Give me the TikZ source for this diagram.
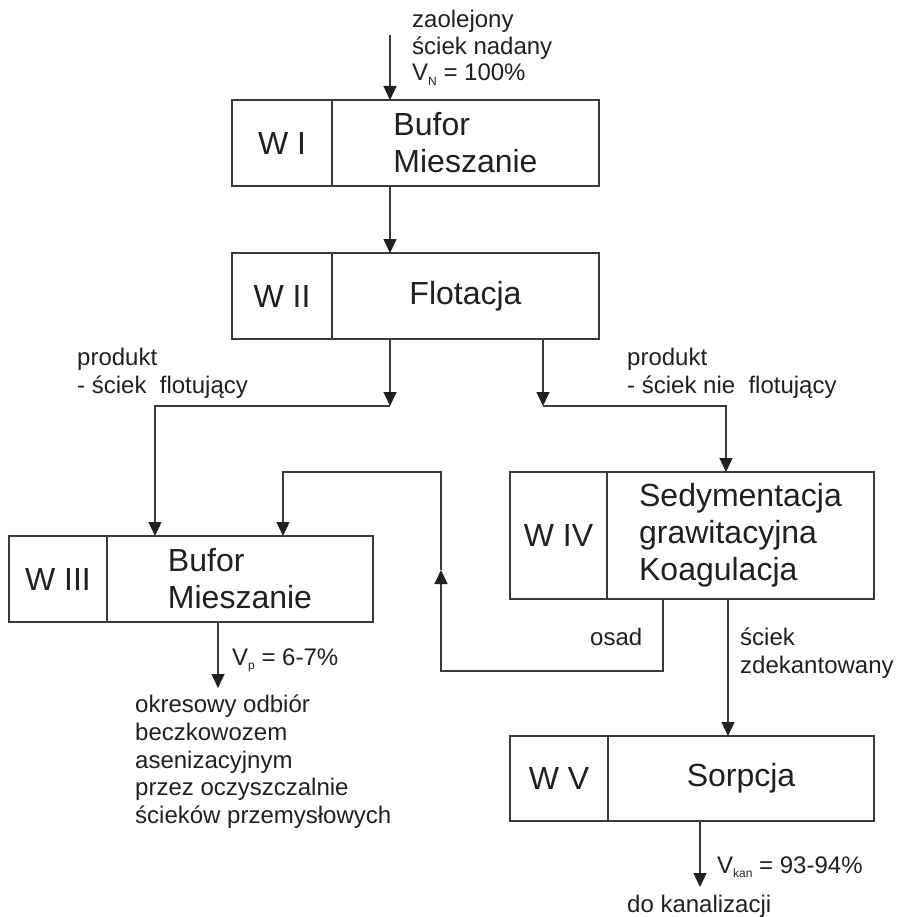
\documentclass[tikz,border=0pt]{standalone}
\usepackage{fontspec}
\setmainfont{Liberation Sans}
\usetikzlibrary{arrows.meta}
\definecolor{ink}{HTML}{231F20}
\definecolor{edge}{HTML}{3A3A3A}
\newcommand{\sbs}[1]{\raisebox{-4.5pt}{\fontsize{12}{12}\selectfont #1}}
\begin{document}
\begin{tikzpicture}[x=1pt,y=-1pt,
  blk/.style={draw=edge,line width=1.3pt,rectangle,inner sep=0pt,outer sep=0pt,anchor=north west,text=ink,font=\fontsize{32}{37}\selectfont,align=left},
  lbl/.style={text=ink,font=\fontsize{24}{28}\selectfont,inner sep=0pt,anchor=base west},
  conn/.style={draw=edge,line width=1.3pt},
  arr/.style={conn,-{Triangle[length=14pt,width=13pt,fill=ink,color=ink]}}
]
\useasboundingbox (0,0) rectangle (903,917);

% blocks
\node[blk,minimum width=100pt,minimum height=86pt] (n1) at (232,100) {W I};
\node[blk,minimum width=267pt,minimum height=86pt] (m1) at (332,100) {Bufor\\Mieszanie};
\node[blk,minimum width=100pt,minimum height=86pt] (n2) at (232,253) {W II};
\node[blk,minimum width=267pt,minimum height=86pt] (m2) at (332,253) {Flotacja};
\node[blk,minimum width=98pt,minimum height=86pt] (n3) at (9,536) {W III};
\node[blk,minimum width=266pt,minimum height=86pt] (m3) at (107,536) {Bufor\\Mieszanie};
\node[blk,minimum width=97pt,minimum height=127pt] (n4) at (510,472) {W IV};
\node[blk,minimum width=267pt,minimum height=127pt] (m4) at (607,472) {Sedymentacja\\grawitacyjna\\Koagulacja};
\node[blk,minimum width=98pt,minimum height=85pt] (n5) at (510,736) {W V};
\node[blk,minimum width=266pt,minimum height=85pt] (m5) at (608,736) {Sorpcja};

% junction coordinates
\coordinate (in1) at (390,35);
\coordinate (ja) at (390,406);
\coordinate (pa) at (155,406);
\coordinate (jb) at (543,406);
\coordinate (pb) at (726,406);
\coordinate (o1) at (663,671);
\coordinate (o2) at (441,671);
\coordinate (o3) at (441,570);
\coordinate (o4) at (441,472);
\coordinate (o5) at (283,472);
\coordinate (dx) at (728,660);
\coordinate (vp) at (218,688);
\coordinate (vk) at (700,887);

% connectors
\draw[arr] (in1) -- (in1 |- m1.north);
\draw[arr] (in1 |- m1.south) -- (in1 |- m2.north);
\draw[arr] (ja |- m2.south) -- (ja);
\draw[arr] (ja) -- (pa) -- (pa |- m3.north);
\draw[arr] (jb |- m2.south) -- (jb);
\draw[arr] (jb) -- (pb) -- (pb |- m4.north);
\draw[arr] (o1 |- m4.south) -- (o1) -- (o2) -- (o3);
\draw[arr] (o3) -- (o4) -- (o5) -- (o5 |- m3.north);
\draw[arr] (dx |- m4.south) -- (dx |- m5.north);
\draw[arr] (vp |- m3.south) -- (vp);
\draw[arr] (vk |- m5.south) -- (vk);

% labels
\node[lbl] (t1) at (412,28) {zaolejony};
\node[lbl] (t2) at (412,55) {ściek nadany};
\node[lbl] (t3) at (412,81) {V\sbs{N} = 100\%};
\node[lbl] (l1) at (77,365) {produkt};
\node[lbl] (l2) at (77,393) {- ściek\ \ flotujący};
\node[lbl] (r1) at (627,365) {produkt};
\node[lbl] (r2) at (627,393) {- ściek nie\ \ flotujący};
\node[lbl] (os) at (590,645) {osad};
\node[lbl] (z1) at (740,645) {ściek};
\node[lbl] (z2) at (740,673) {zdekantowany};
\node[lbl] (vpl) at (232,665) {V\sbs{p} = 6-7\%};
\node[lbl] (b1) at (135,712) {okresowy odbiór};
\node[lbl] (b2) at (135,740) {beczkowozem};
\node[lbl] (b3) at (135,768) {asenizacyjnym};
\node[lbl] (b4) at (135,795) {przez oczyszczalnie};
\node[lbl] (b5) at (135,823) {ścieków przemysłowych};
\node[lbl] (vkl) at (717,873) {V\sbs{kan} = 93-94\%};
\node[lbl] (dk) at (627,912) {do kanalizacji};
\end{tikzpicture}
\end{document}
